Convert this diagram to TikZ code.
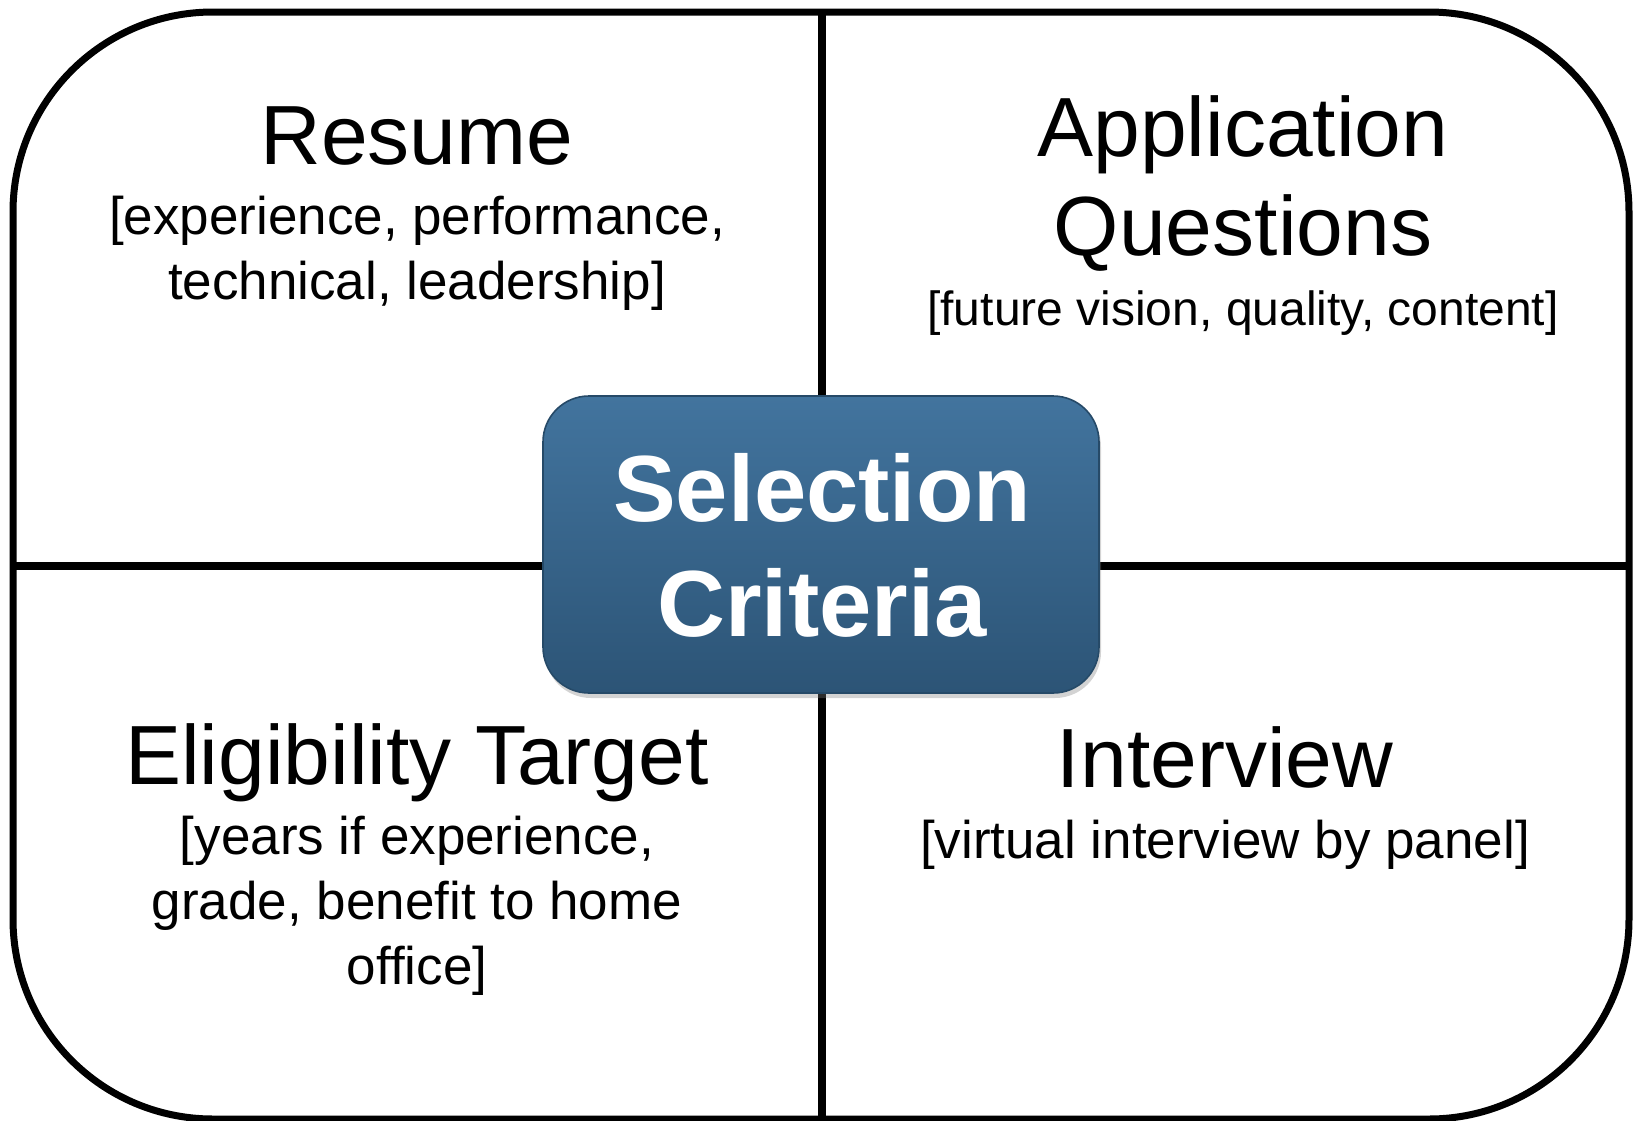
\documentclass[tikz,border=0pt]{standalone}
\usepackage{fontspec}
\setmainfont{Liberation Sans}
\usetikzlibrary{positioning,shadows}
\definecolor{hubtop}{RGB}{66,116,158}
\definecolor{hubbot}{RGB}{44,84,118}
\definecolor{hubedge}{RGB}{38,74,104}
\tikzset{
  frame/.style={line width=3.5pt,black},
  divide/.style={line width=3.8pt,black},
  qtitle/.style={anchor=base,inner sep=0pt,font=\fontsize{42}{49.5}\selectfont,align=center},
  qsub/.style={anchor=base,inner sep=0pt,font=\fontsize{26.5}{32.3}\selectfont,align=center},
  hub/.style={rounded corners=23pt,draw=hubedge,line width=0.8pt,
    top color=hubtop,bottom color=hubbot,
    drop shadow={opacity=0.35,shadow xshift=1pt,shadow yshift=-2.5pt}},
  hubtxt/.style={anchor=base,inner sep=0pt,text=white,
    font=\fontsize{47}{57.5}\selectfont\bfseries,align=center},
}
\begin{document}
\begin{tikzpicture}[x=0.5pt,y=-0.5pt]
  \useasboundingbox (0,0) rectangle (1634,1120);
  % outer frame and quadrant lines
  \draw[frame,rounded corners=100pt] (13,12) rectangle (1629,1119);
  \draw[divide] (822,12) -- (822,1119);
  \draw[divide] (13,566) -- (1629,566);
  % center box (base = last line)
  \path[hub] (543,396) rectangle (1099,693);
  \node[hubtxt] (sel) at (822,636) {Selection\\Criteria};
  % quadrants
  \node[qtitle] (res) at (417,164) {Resume};
  \node[qsub] (ressub) at (417,299) {[experience, performance,\\technical, leadership]};
  \node[qtitle] (app) at (1243,255) {Application\\Questions};
  \node[qsub,font=\fontsize{24}{30}\selectfont] (appsub) at (1243,325) {[future vision, quality, content]};
  \node[qtitle] (elig) at (417,784) {Eligibility Target};
  \node[qsub] (eligsub) at (417,984) {[years if experience,\\grade, benefit to home\\office]};
  \node[qtitle] (intv) at (1225,787) {Interview};
  \node[qsub] (intvsub) at (1225,858) {[virtual interview by panel]};
\end{tikzpicture}
\end{document}
